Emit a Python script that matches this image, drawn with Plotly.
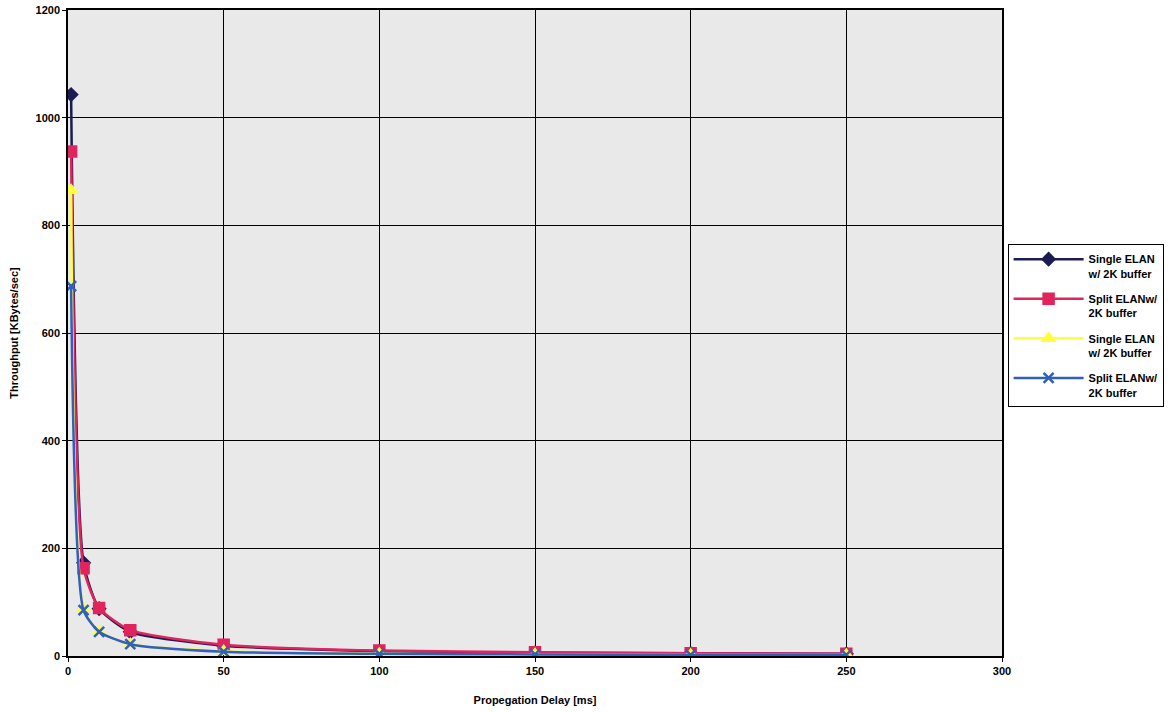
import plotly.graph_objects as go

delay = [1, 5, 10, 20, 50, 100, 150, 200, 250]

single_2k_a = [1043, 173, 88, 45, 19, 9, 6, 5, 4]
split_2k_a = [937, 163, 89, 48, 21, 10, 7, 5, 4]
single_2k_b = [865, 88, 45, 22, 9, 4, 3, 2, 2]
split_2k_b = [687, 85, 45, 22, 8, 4, 3, 2, 2]

series = [
    ("Single ELAN<br>w/ 2K buffer", single_2k_a, "#1c1c54", "diamond", 9),
    ("Split ELANw/<br>2K buffer", split_2k_a, "#e0245e", "square", 10),
    ("Single ELAN<br>w/ 2K buffer", single_2k_b, "#ffff40", "triangle-up", 10),
    ("Split ELANw/<br>2K buffer", split_2k_b, "#2f5fbf", "x-thin", 10),
]

fig = go.Figure()

for i, (name, vals, color, symbol, size) in enumerate(series):
    fig.add_trace(go.Scatter(
        x=delay, y=vals,
        mode="lines+markers",
        name="<b>" + name + "</b>",
        legendgroup=str(i),
        line=dict(color=color, width=2.5, shape="spline", smoothing=0.6),
        marker=dict(symbol=symbol, size=size, color=color,
                    line=dict(width=2.5, color=color)),
    ))

axis_font = dict(family="Liberation Sans", size=11, color="black")

fig.update_xaxes(
    range=[0, 300], dtick=50,
    showgrid=True, gridcolor="black", gridwidth=1,
    showline=True, linecolor="black", linewidth=1.5, mirror=True,
    ticks="outside", ticklen=4, tickcolor="black",
    zeroline=False, automargin=False,
    tickfont=axis_font,
    title=dict(text="<b>Propegation Delay [ms]</b>", font=axis_font, standoff=20),
    tickprefix="<b>", ticksuffix="</b>",
)
fig.update_yaxes(
    range=[0, 1200], dtick=200,
    showgrid=True, gridcolor="black", gridwidth=1,
    showline=True, linecolor="black", linewidth=1.5, mirror=True,
    ticks="outside", ticklen=4, tickcolor="black",
    zeroline=False, automargin=False,
    tickfont=axis_font, ticklabeloverflow="allow",
    title=dict(text="<b>Throughput [KBytes/sec]</b>", font=axis_font),
    tickprefix="<b>", ticksuffix="</b>",
)

fig.update_layout(
    width=1174, height=712,
    margin=dict(l=68, r=170, t=10, b=56),
    paper_bgcolor="white",
    plot_bgcolor="#e9e9e9",
    showlegend=True,
    legend=dict(
        x=1.006, y=0.637, xanchor="left", yanchor="top",
        bordercolor="black", borderwidth=1, bgcolor="white",
        font=dict(family="Liberation Sans", size=11, color="black"),
        itemwidth=70, tracegroupgap=8, valign="top",
    ),
)

# drop the default body margin so the figure sits at the page corner
fig.write_html("out.html", config={"displayModeBar": False},
               post_script="document.body.style.margin='0';")
